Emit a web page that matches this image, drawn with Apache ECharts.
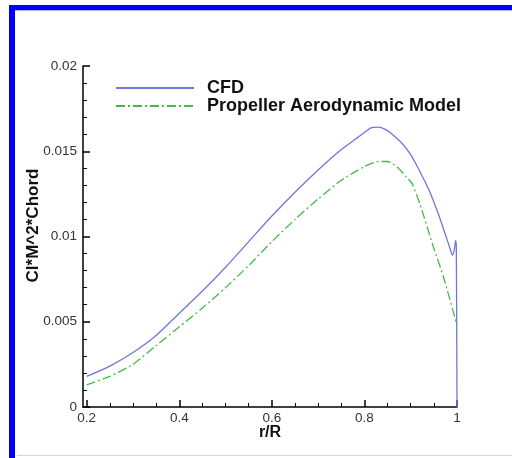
<!DOCTYPE html>
<html>
<head>
<meta charset="utf-8">
<script src="https://cdn.jsdelivr.net/npm/echarts@6/dist/echarts.min.js"></script>
<style>html,body{margin:0;padding:0;background:#fff;}#c{width:512px;height:458px;}</style>
</head>
<body>
<div id="c"></div>
<script>
// r/R stations and values
var cfdR = [0.2, 0.25, 0.3, 0.35, 0.4, 0.45, 0.5, 0.55, 0.6, 0.65, 0.7, 0.75, 0.78, 0.8, 0.815, 0.83, 0.845, 0.86, 0.88, 0.9, 0.92, 0.94, 0.96, 0.975, 0.985, 0.99, 0.994, 0.997, 0.9985, 1.0];
var cfdV = [0.0018, 0.0024, 0.0032, 0.0042, 0.0055, 0.0068, 0.0082, 0.0097, 0.0112, 0.0126, 0.0139, 0.0151, 0.0157, 0.0161, 0.01638, 0.01642, 0.01628, 0.0160, 0.0155, 0.0148, 0.0138, 0.0127, 0.0113, 0.0101, 0.0093, 0.0089, 0.0092, 0.00975, 0.0094, 0.0];
var modelR = [0.2, 0.25, 0.3, 0.35, 0.4, 0.45, 0.5, 0.55, 0.6, 0.65, 0.7, 0.75, 0.8, 0.83, 0.85, 0.87, 0.89, 0.903, 0.92, 0.95, 0.97, 1.0];
var modelV = [0.0013, 0.0018, 0.0025, 0.0036, 0.0047, 0.0058, 0.0070, 0.0083, 0.0097, 0.0110, 0.0122, 0.0133, 0.0141, 0.0144, 0.0144, 0.0141, 0.0135, 0.0131, 0.0119, 0.0093, 0.0077, 0.0048];
var xMajor = [0.2, 0.4, 0.6, 0.8, 1];
var xMinor = [0.25, 0.3, 0.35, 0.45, 0.5, 0.55, 0.65, 0.7, 0.75, 0.85, 0.9, 0.95];
var seriesNames = ['CFD', 'Propeller Aerodynamic Model'];

function pairs(xs, ys) { return xs.map(function (x, i) { return [x, ys[i]]; }); }

var FONT = '"Liberation Sans", Arial, Helvetica, sans-serif';
var chart = echarts.init(document.getElementById('c'), null, { renderer: 'canvas' });
chart.setOption({
  animation: false,
  backgroundColor: '#fff',
  textStyle: { fontFamily: FONT },
  graphic: [
    { type: 'rect', shape: { x: 9, y: 5, width: 503, height: 5 }, style: { fill: '#0000ff' }, silent: true },
    { type: 'rect', shape: { x: 9, y: 5, width: 6, height: 453 }, style: { fill: '#0000ff' }, silent: true },
    { type: 'rect', shape: { x: 15, y: 10, width: 497, height: 1 }, style: { fill: '#aab0ee' }, silent: true },
    { type: 'rect', shape: { x: 17, y: 455, width: 495, height: 1 }, style: { fill: '#d4d4d4' }, silent: true }
  ],
  grid: { left: 83, right: 55, top: 66, bottom: 51, containLabel: false },
  legend: {
    orient: 'vertical', left: 115, top: 79, padding: 0, itemGap: 0, itemWidth: 78, itemHeight: 14,
    data: seriesNames,
    itemStyle: { opacity: 0 },
    textStyle: { fontFamily: FONT, fontSize: 18, fontWeight: 'bold', color: '#111', padding: [0, 0, 0, 8], lineHeight: 18 }
  },
  xAxis: [
    {
      type: 'value', min: 0.192, max: 1,
      name: 'r/R', nameLocation: 'middle', nameGap: 18, nameMoveOverlap: false,
      nameTextStyle: { fontFamily: FONT, fontSize: 16, fontWeight: 'bold', color: '#111' },
      axisLine: { show: true, lineStyle: { color: '#000', width: 1.5 } },
      axisTick: { show: true, inside: true, length: 7, customValues: xMajor, lineStyle: { color: '#000', width: 1.5 } },
      axisLabel: { show: true, customValues: xMajor, margin: 4, fontFamily: FONT, fontSize: 13.5, color: '#333' },
      splitLine: { show: false }
    },
    {
      type: 'value', min: 0.192, max: 1, position: 'bottom',
      axisLine: { show: false },
      axisTick: { show: true, inside: true, length: 4, customValues: xMinor, lineStyle: { color: '#000', width: 1 } },
      axisLabel: { show: false },
      splitLine: { show: false }
    }
  ],
  yAxis: {
    type: 'value', min: 0, max: 0.02, interval: 0.005,
    name: 'Cl*M^2*Chord', nameLocation: 'middle', nameGap: 41, nameMoveOverlap: false,
    nameTextStyle: { fontFamily: FONT, fontSize: 17, fontWeight: 'bold', color: '#111', padding: [0, 0, 0, 22] },
    axisLine: { show: true, lineStyle: { color: '#000', width: 1.5 } },
    axisTick: { show: true, inside: true, length: 7, lineStyle: { color: '#000', width: 1.5 } },
    minorTick: { show: true, splitNumber: 5, length: 4, lineStyle: { color: '#000', width: 1 } },
    axisLabel: { margin: 6, fontFamily: FONT, fontSize: 13.5, color: '#333' },
    splitLine: { show: false }
  },
  series: [
    {
      name: seriesNames[0], type: 'line', xAxisIndex: 0, symbol: 'none', smooth: 0.25,
      lineStyle: { color: '#7474e0', width: 1.3 }, itemStyle: { color: '#7474e0' },
      data: pairs(cfdR, cfdV)
    },
    {
      name: seriesNames[1], type: 'line', xAxisIndex: 0, symbol: 'none', smooth: 0.2,
      lineStyle: { color: '#44bb44', width: 1.3, type: [9, 3, 2, 3] }, itemStyle: { color: '#44bb44' },
      data: pairs(modelR, modelV)
    }
  ]
});
</script>
</body>
</html>
